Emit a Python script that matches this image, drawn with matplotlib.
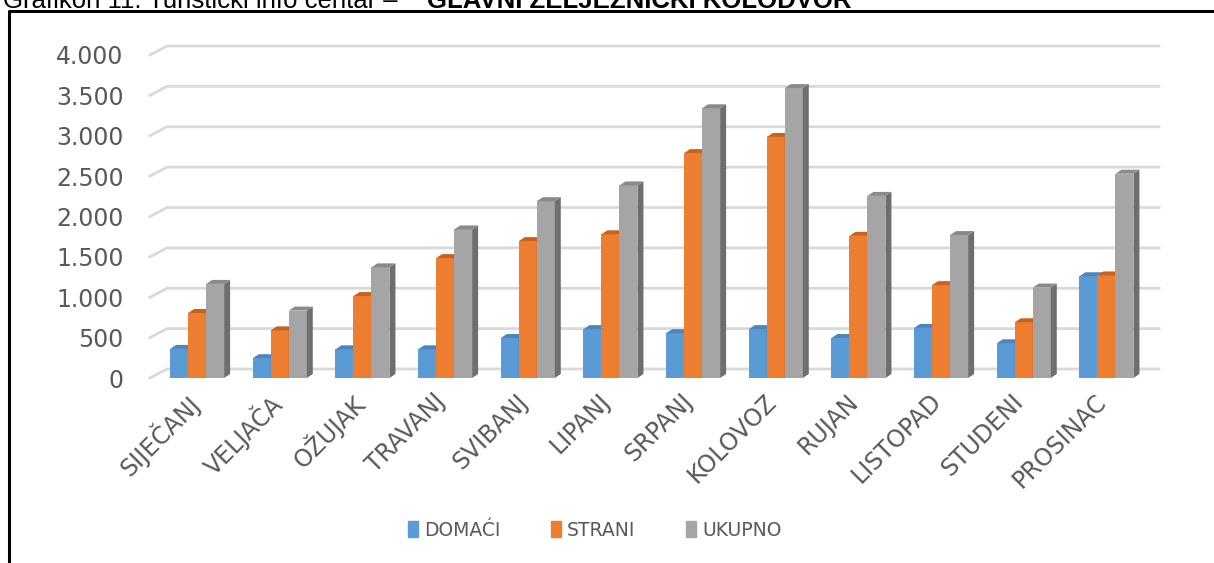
import matplotlib.pyplot as plt
from matplotlib.patches import Polygon, Patch
from matplotlib.lines import Line2D
import numpy as np

months = ['SIJEČANJ', 'VELJAČA', 'OŽUJAK', 'TRAVANJ', 'SVIBANJ', 'LIPANJ',
          'SRPANJ', 'KOLOVOZ', 'RUJAN', 'LISTOPAD', 'STUDENI', 'PROSINAC']
domaci = [360, 245, 355, 355, 495, 605, 555, 605, 495, 620, 430, 1260]
strani = [805, 590, 1015, 1485, 1695, 1780, 2785, 2985, 1760, 1150, 690, 1270]
ukupno = [1165, 835, 1370, 1840, 2190, 2385, 3340, 3590, 2255, 1770, 1120, 2530]
yticks = [0, 500, 1000, 1500, 2000, 2500, 3000, 3500, 4000]
ytick_labels = ['0', '500', '1.000', '1.500', '2.000', '2.500', '3.000', '3.500', '4.000']

series = [('DOMAĆI', domaci, '#5B9BD5', '#41719C', '#4A86BD'),
          ('STRANI', strani, '#ED7D31', '#AE5A21', '#C8631E'),
          ('UKUPNO', ukupno, '#A5A5A5', '#6E6E6E', '#8A8A8A')]

W, H = 1214, 563
fig = plt.figure(figsize=(W / 100, H / 100), dpi=100)
ax = fig.add_axes([150 / W, (H - 378) / H, 992 / W, 323 / H])
ax.set_xlim(-0.57, 11.43)
ax.set_ylim(0, 4000)
for s in ax.spines.values():
    s.set_visible(False)

# pixel -> data scale
px_x = 12.0 / 992
px_y = 4000.0 / 323

# back wall gridlines with slanted stub
gdx, gdy = 17 * px_x, 9 * px_y
x0, x1 = ax.get_xlim()
for v in yticks:
    ax.plot([x0, x0 + gdx, x1 + gdx], [v, v + gdy, v + gdy], color='#D9D9D9',
            lw=2, clip_on=False, zorder=1)

x = np.arange(len(months))
bw = 18 * px_x
dx, dy = 6 * px_x, 4 * px_y
for k, (name, vals, c, side, top) in enumerate(series):
    xs = x + (k - 1) * bw
    ax.bar(xs, vals, width=bw, color=c, zorder=3 + k, linewidth=0)
    for xi, h in zip(xs, vals):
        l, r = xi - bw / 2, xi + bw / 2
        ax.add_patch(Polygon([(r, 0), (r, h), (r + dx, h + dy), (r + dx, dy)],
                             closed=True, color=side, lw=0, zorder=3 + k, clip_on=False))
        ax.add_patch(Polygon([(l, h), (r, h), (r + dx, h + dy), (l + dx, h + dy)],
                             closed=True, color=top, lw=0, zorder=3 + k, clip_on=False))

ax.set_yticks(yticks)
ax.set_yticklabels(ytick_labels, fontsize=17, color='#595959')
ax.tick_params(axis='y', length=0, pad=19)
ax.set_xticks(x - 12 * px_x)
ax.set_xticklabels(months, rotation=45, ha='right', rotation_mode='anchor',
                   fontsize=17, color='#595959')
ax.tick_params(axis='x', length=0, pad=8)

handles = [Patch(color=c) for _, _, c, _, _ in series]
fig.legend(handles, [s[0] for s in series], loc='center', bbox_to_anchor=(0.49, (H - 530) / H),
           ncol=3, frameon=False, fontsize=13.5, labelcolor='#595959',
           handlelength=0.5, handleheight=0.9, handletextpad=0.35, columnspacing=2.7)

# title (cut at top edge, as in the source) and frame
fig.text(3 / W, (H - 8) / H, 'Grafikon 11. Turistički info centar – ', fontsize=18.5,
         family='Liberation Sans', va='baseline', ha='left')
fig.text(427 / W, (H - 8) / H, 'GLAVNI ŽELJEZNIČKI KOLODVOR', fontsize=18.5,
         family='Liberation Sans', fontweight='bold', va='baseline', ha='left')
fig.add_artist(Line2D([9 / W, 9 / W, 1], [0, (H - 11) / H, (H - 11) / H],
                      transform=fig.transFigure, color='black', lw=2.2))

fig.savefig('out.png', dpi=100)
